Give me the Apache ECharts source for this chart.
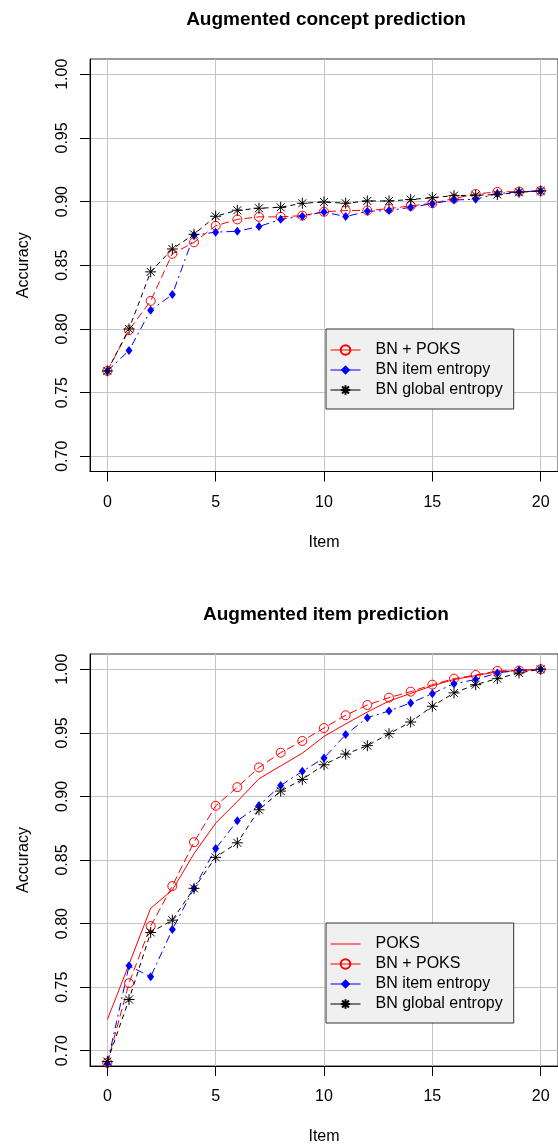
<!DOCTYPE html>
<html>
<head>
<meta charset="utf-8">
<script src="https://cdn.jsdelivr.net/npm/echarts@6/dist/echarts.min.js"></script>
<style>
  html, body { margin: 0; padding: 0; background: #fff; }
  #main { width: 558px; height: 1147px; }
</style>
</head>
<body>
<div id="main"></div>
<script>
// 数据
const items = [0, 1, 2, 3, 4, 5, 6, 7, 8, 9, 10, 11, 12, 13, 14, 15, 16, 17, 18, 19, 20];
const xTicks = [0, 5, 10, 15, 20];
const yTicks = [0.70, 0.75, 0.80, 0.85, 0.90, 0.95, 1.00];

// Augmented concept prediction
const conceptBnPoks = [0.767, 0.799, 0.822, 0.859, 0.868, 0.881, 0.886, 0.888, 0.888, 0.889, 0.892, 0.893, 0.893, 0.8945, 0.8966, 0.8987, 0.9024, 0.906, 0.9076, 0.9079, 0.9084];
const conceptItemEntropy = [0.767, 0.783, 0.8147, 0.827, 0.8736, 0.876, 0.8767, 0.8804, 0.8861, 0.8885, 0.8919, 0.8882, 0.8924, 0.893, 0.8955, 0.8984, 0.9013, 0.9018, 0.9063, 0.9076, 0.9084];
const conceptGlobalEntropy = [0.767, 0.800, 0.8448, 0.8628, 0.8743, 0.8885, 0.8932, 0.8948, 0.8955, 0.8987, 0.8997, 0.8987, 0.9005, 0.9005, 0.9016, 0.9031, 0.9047, 0.905, 0.9055, 0.9073, 0.9084];

// Augmented item prediction
const itemPoks = [0.7245, 0.768, 0.812, 0.8264, 0.855, 0.879, 0.896, 0.9139, 0.924, 0.934, 0.9472, 0.957, 0.9664, 0.975, 0.981, 0.987, 0.9919, 0.995, 0.998, 0.999, 1.0];
const itemBnPoks = [0.6904, 0.7531, 0.798, 0.8295, 0.864, 0.8926, 0.9073, 0.9228, 0.9344, 0.9436, 0.9538, 0.9638, 0.9719, 0.9777, 0.9824, 0.9879, 0.9926, 0.9955, 0.9987, 0.999, 1.0];
const itemItemEntropy = [0.690, 0.7668, 0.7581, 0.7954, 0.8277, 0.859, 0.8808, 0.8929, 0.9086, 0.9197, 0.9302, 0.9486, 0.9619, 0.9672, 0.9735, 0.9808, 0.9887, 0.9919, 0.9971, 0.9992, 1.0];
const itemGlobalEntropy = [0.6915, 0.7403, 0.793, 0.8027, 0.8277, 0.8521, 0.8635, 0.8895, 0.9042, 0.9134, 0.9249, 0.9333, 0.9399, 0.9493, 0.9585, 0.9709, 0.9814, 0.9879, 0.9926, 0.9971, 1.0];

const FONT = 'Liberation Sans, Arial, Helvetica, sans-serif';
const ASTERISK = 'path://M0,-5L0,5M-5,0L5,0M-3.6,-3.6L3.6,3.6M-3.6,3.6L3.6,-3.6';

const pairs = vals => items.map((x, i) => [x, vals[i]]);

// 系列样式
function poksSeries(idx, vals) {
    return {
        name: 'POKS', type: 'line', xAxisIndex: idx, yAxisIndex: idx,
        data: pairs(vals), symbol: 'none',
        itemStyle: { color: '#ff0000' },
        lineStyle: { color: '#ff0000', width: 1 }
    };
}
function bnPoksSeries(idx, vals) {
    return {
        name: 'BN + POKS', type: 'line', xAxisIndex: idx, yAxisIndex: idx,
        data: pairs(vals), symbol: 'circle', symbolSize: 9,
        itemStyle: { color: 'rgba(0,0,0,0)', borderColor: '#ff0000', borderWidth: 1 },
        lineStyle: { color: '#ff0000', width: 1, type: [8, 4] }
    };
}
function itemEntropySeries(idx, vals) {
    return {
        name: 'BN item entropy', type: 'line', xAxisIndex: idx, yAxisIndex: idx,
        data: pairs(vals), symbol: 'diamond', symbolSize: [7, 9],
        itemStyle: { color: '#0000ff', borderWidth: 0 },
        lineStyle: { color: '#0000ff', width: 1, type: [8, 4, 2, 4] }
    };
}
function globalEntropySeries(idx, vals) {
    return {
        name: 'BN global entropy', type: 'line', xAxisIndex: idx, yAxisIndex: idx,
        data: pairs(vals), symbol: ASTERISK, symbolSize: 11,
        itemStyle: { color: '#000', borderColor: '#000', borderWidth: 1 },
        lineStyle: { color: '#000', width: 1, type: [5, 4] }
    };
}

function xAxis(idx) {
    return {
        type: 'value', gridIndex: idx, min: -0.8, max: 20.8,
        name: 'Item', nameLocation: 'middle', nameGap: 63,
        nameTextStyle: { fontFamily: FONT, fontSize: 16, color: '#000' },
        axisLine: { show: true, onZero: false, lineStyle: { color: '#000', width: 1 } },
        axisTick: { show: true, length: 10, customValues: xTicks, lineStyle: { color: '#000' } },
        axisLabel: { customValues: xTicks, margin: 23, fontFamily: FONT, fontSize: 16, color: '#000' },
        splitLine: { show: true, lineStyle: { color: '#c4c4c4', width: 1 } }
    };
}
function yAxis(idx) {
    return {
        type: 'value', gridIndex: idx, min: 0.688, max: 1.012,
        name: 'Accuracy', nameLocation: 'middle', nameGap: 58,
        nameTextStyle: { fontFamily: FONT, fontSize: 16, color: '#000' },
        axisLine: { show: true, onZero: false, lineStyle: { color: '#000', width: 1 } },
        axisTick: { show: true, length: 10, customValues: yTicks, lineStyle: { color: '#000' } },
        axisLabel: {
            customValues: yTicks, rotate: 90, margin: 19,
            formatter: v => v.toFixed(2),
            fontFamily: FONT, fontSize: 16, color: '#000'
        },
        splitLine: { show: true, lineStyle: { color: '#c4c4c4', width: 1 } }
    };
}
function legend(top, names) {
    return {
        data: names.map(n => n === 'POKS'
            ? { name: n, icon: 'path://M0,0L30,0L30,1L0,1Z', itemStyle: { color: '#ff0000' } }
            : { name: n }),
        orient: 'vertical', left: 326, top: top,
        itemWidth: 30, itemHeight: 12, itemGap: 4,
        padding: [13, 11, 11, 4],
        backgroundColor: '#f0f0f0', borderColor: '#333', borderWidth: 1, borderRadius: 0,
        lineStyle: { type: 'solid', width: 1 },
        textStyle: { fontFamily: FONT, fontSize: 16, color: '#000', lineHeight: 16, padding: [0, 0, 0, 10] },
        selectedMode: false
    };
}

const chart = echarts.init(document.getElementById('main'));
chart.setOption({
    animation: false,
    backgroundColor: '#fff',
    title: [
        { text: 'Augmented concept prediction', left: 326, top: 10, textAlign: 'center', padding: 0,
          textStyle: { fontFamily: FONT, fontSize: 19, fontWeight: 'bold', color: '#000' } },
        { text: 'Augmented item prediction', left: 326, top: 605, textAlign: 'center', padding: 0,
          textStyle: { fontFamily: FONT, fontSize: 19, fontWeight: 'bold', color: '#000' } }
    ],
    grid: [
        { left: 90, top: 59, right: -3.4, height: 412.5, show: true, borderColor: '#333', borderWidth: 1, backgroundColor: 'transparent' },
        { left: 90, top: 654, right: -3.4, height: 412, show: true, borderColor: '#333', borderWidth: 1, backgroundColor: 'transparent' }
    ],
    xAxis: [xAxis(0), xAxis(1)],
    yAxis: [yAxis(0), yAxis(1)],
    legend: [
        legend(329, ['BN + POKS', 'BN item entropy', 'BN global entropy']),
        legend(923, ['POKS', 'BN + POKS', 'BN item entropy', 'BN global entropy'])
    ],
    series: [
        bnPoksSeries(0, conceptBnPoks),
        itemEntropySeries(0, conceptItemEntropy),
        globalEntropySeries(0, conceptGlobalEntropy),
        poksSeries(1, itemPoks),
        bnPoksSeries(1, itemBnPoks),
        itemEntropySeries(1, itemItemEntropy),
        globalEntropySeries(1, itemGlobalEntropy)
    ]
});
</script>
</body>
</html>
